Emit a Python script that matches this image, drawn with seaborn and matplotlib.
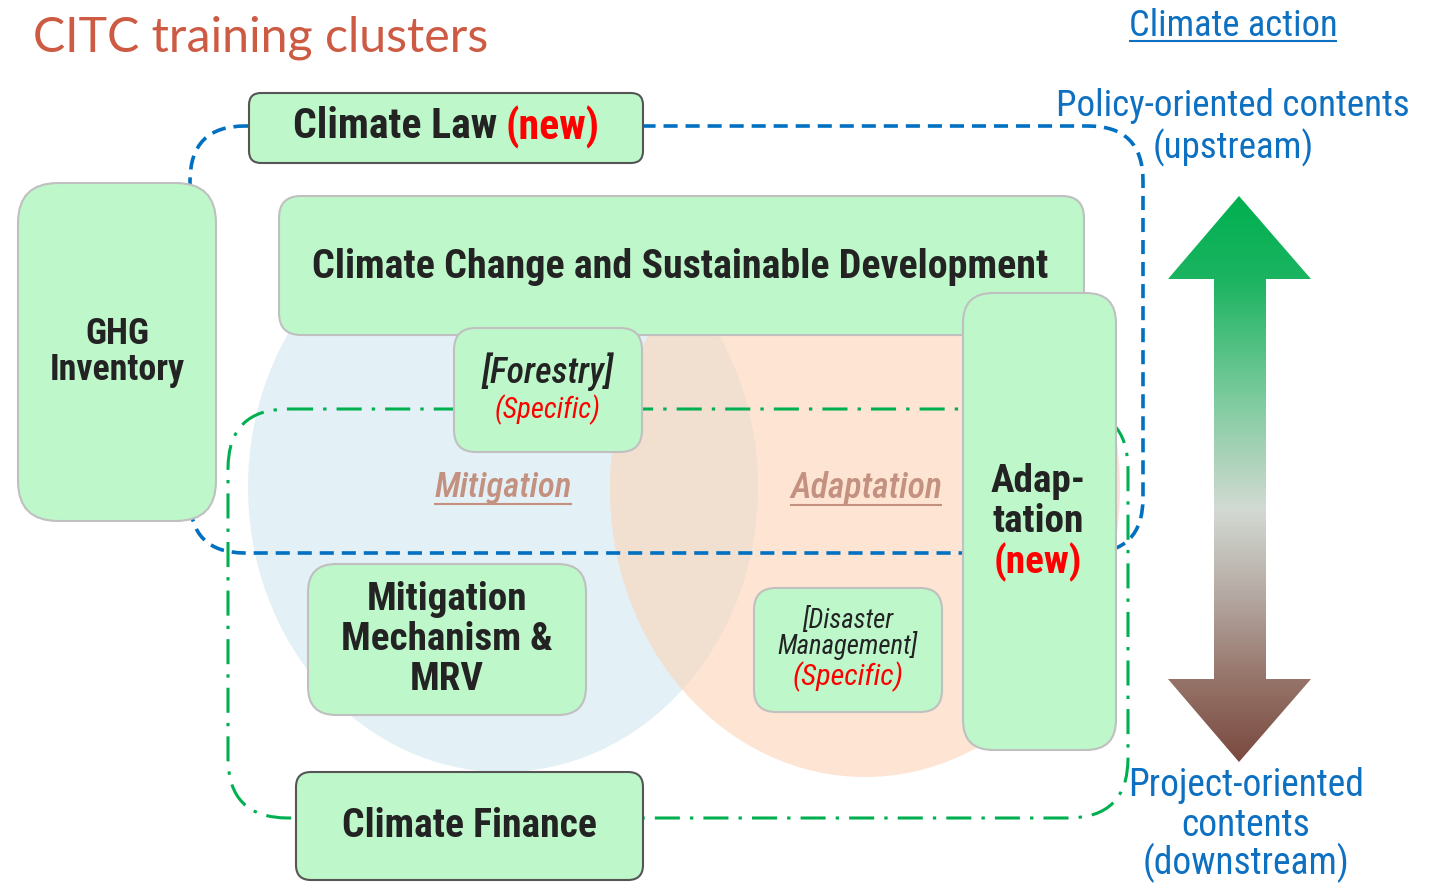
import numpy as np
import matplotlib
matplotlib.use("Agg")
import matplotlib.pyplot as plt
import seaborn as sns
from matplotlib import font_manager
from matplotlib.patches import FancyBboxPatch, Ellipse, Polygon
from matplotlib.colors import LinearSegmentedColormap

# ---- content ----
title = "CITC training clusters"
box_texts = ["Climate Law", "Climate Change and Sustainable Development", "GHG\nInventory",
             "[Forestry]", "Adap-\ntation", "Mitigation\nMechanism &\nMRV",
             "[Disaster\nManagement]", "Climate Finance"]
box_tags = ["(new)", "", "", "(Specific)", "(new)", "", "(Specific)", ""]
area_labels = ["Mitigation", "Adaptation"]
axis_title = "Climate action"
axis_top = ["Policy-oriented contents", "(upstream)"]
axis_bottom = ["Project-oriented", "contents", "(downstream)"]

# ---- layout (pixels, y down) ----
box_xywh = [(249, 93, 394, 70), (279, 196, 805, 139), (18, 183, 198, 338), (454, 328, 188, 124),
            (963, 293, 153, 457), (308, 564, 278, 151), (754, 588, 188, 124), (296, 772, 347, 108)]
box_round = [12, 22, 40, 22, 30, 28, 22, 15]
box_edge = ["#555555", "#C0C0C0", "#C0C0C0", "#C0C0C0", "#C0C0C0", "#C0C0C0", "#C0C0C0", "#555555"]

sns.set_theme(style="white")
avail = {f.name for f in font_manager.fontManager.ttflist}
narrow = next((f for f in ["Liberation Sans Narrow", "Roboto Condensed", "Open Sans Condensed"] if f in avail),
              "DejaVu Sans")
plt.rcParams["font.family"] = [narrow, "DejaVu Sans"]

GREEN_BOX = "#BDF7CA"
DARK = "#232323"
RED = "#FF0000"
BLUE = "#0E70C0"
GREEN = "#00B050"
ROSE = "#C4907F"

fig = plt.figure(figsize=(14.32, 8.83), dpi=100)
ax = fig.add_axes([0, 0, 1, 1])
ax.set_xlim(0, 1432)
ax.set_ylim(883, 0)
ax.axis("off")
renderer = fig.canvas.get_renderer()


def fit_size(s, w, **kw):
    t = ax.text(0, 0, s, fontsize=20, **kw)
    size = 20 * w / t.get_window_extent(renderer).width
    t.remove()
    return size


def put(x, y, s, size, **kw):
    kw.setdefault("ha", "center")
    return ax.text(x, y, s, fontsize=size, va="center", zorder=5, **kw)


def inline(x, y, parts, w, gap=8, **kw):
    size = fit_size("".join(p for p, _ in parts), w, **kw)
    ts = [ax.text(0, y, p, color=c, fontsize=size, va="center", ha="left", zorder=5, **kw) for p, c in parts]
    ws = [t.get_window_extent(renderer).width for t in ts]
    left = x - (sum(ws) + gap * (len(ts) - 1)) / 2
    for t, wd in zip(ts, ws):
        t.set_x(left)
        left += wd + gap


def underline(t, color, lw, off=0):
    bb = t.get_window_extent(renderer)
    ax.plot([bb.x0, bb.x1], [883 - bb.y0 + off] * 2, color=color, lw=lw, zorder=5, solid_capstyle="butt")


# ---- venn circles ----
blue_c = Ellipse((503, 487), 510, 570, facecolor="#E3F0F5", edgecolor="none", zorder=1)
orange_c = Ellipse((865, 488), 510, 578, facecolor="#FDE4D3", edgecolor="none", zorder=1)
ax.add_patch(blue_c)
ax.add_patch(orange_c)
overlap = Ellipse((865, 488), 510, 578, facecolor="#F1DFD0", edgecolor="none", zorder=1.1)
ax.add_patch(overlap)
overlap.set_clip_path(blue_c)

# ---- grouping outlines ----
ax.add_patch(FancyBboxPatch((190, 126), 953, 427, boxstyle="round,pad=0,rounding_size=55",
                            fill=False, ec="#0070C0", lw=2.6, ls=(0, (3.9, 2.2)), zorder=2))
ax.add_patch(FancyBboxPatch((228, 409), 900, 409, boxstyle="round,pad=0,rounding_size=60",
                            fill=False, ec=GREEN, lw=2.2, ls=(0, (8.2, 3.3, 1.1, 3.3)), zorder=2))

# ---- training boxes ----
for (x, y, w, h), r, ec in zip(box_xywh, box_round, box_edge):
    ax.add_patch(FancyBboxPatch((x, y), w, h, boxstyle=f"round,pad=0,rounding_size={r}",
                                fc=GREEN_BOX, ec=ec, lw=1.5, zorder=3))

bold = dict(fontweight="bold")
inline(446, 127, [(box_texts[0], DARK), (box_tags[0], RED)], 297, **bold)
put(680, 267, box_texts[1], fit_size(box_texts[1], 736, **bold), color=DARK, **bold)

s = fit_size("Inventory", 135, **bold)
for yy, line in zip([334, 370], box_texts[2].split("\n")):
    put(117, yy, line, s, color=DARK, **bold)

s = fit_size(box_texts[3], 132, style="italic", fontweight="medium")
put(548, 372, box_texts[3], s, color=DARK, style="italic", fontweight="medium")
put(548, 410, box_tags[3], fit_size(box_tags[3], 106, style="italic"), color=RED, style="italic")

s = fit_size("Adap-", 95, **bold)
for yy, line in zip([482, 521], box_texts[4].split("\n")):
    put(1038, yy, line, s, color=DARK, **bold)
put(1038, 562, box_tags[4], s, color=RED, **bold)

s = fit_size("Mechanism &", 211, **bold)
for yy, line in zip([600, 640, 680], box_texts[5].split("\n")):
    put(447, yy, line, s, color=DARK, **bold)

s = fit_size("Management]", 140, style="italic")
for yy, line in zip([620, 646], box_texts[6].split("\n")):
    put(848, yy, line, s, color=DARK, style="italic")
put(848, 677, box_tags[6], fit_size(box_tags[6], 111, style="italic"), color=RED, style="italic")

put(469, 826, box_texts[7], fit_size(box_texts[7], 254, **bold), color=DARK, **bold)

# ---- area labels ----
for cx, lab, w in zip([503, 866], area_labels, [137, 152]):
    t = put(cx, 488, lab, fit_size(lab, w, style="italic", fontweight="medium"), color=ROSE,
            style="italic", fontweight="medium")
    underline(t, ROSE, 1.5, off=-1)

# ---- title ----
put(33, 38, title, fit_size(title, 457, family=["Lato", "DejaVu Sans"]), color="#CD5A42",
    ha="left", family=["Lato", "DejaVu Sans"])

# ---- climate action axis ----
t = put(1233, 26, axis_title, fit_size(axis_title, 208), color=BLUE)
underline(t, BLUE, 1.5, off=-3)
s = fit_size(axis_top[0], 353)
for yy, line in zip([106, 148], axis_top):
    put(1233, yy, line, s, color=BLUE)
s = fit_size(axis_bottom[0], 236)
for yy, line in zip([786, 825, 863], axis_bottom):
    put(1246, yy, line, s, color=BLUE)

arrow = [(1239, 196), (1311, 279), (1266, 279), (1266, 679), (1311, 679), (1239, 762),
         (1168, 679), (1214, 679), (1214, 279), (1168, 279)]
poly = Polygon(arrow, closed=True, fc="none", ec="none", zorder=2)
ax.add_patch(poly)
cmap = LinearSegmentedColormap.from_list(
    "updown", [(0, "#00B050"), (0.15, "#1DB462"), (0.36, "#7ECB9E"), (0.555, "#D3DAD3"),
               (0.714, "#B3A6A0"), (0.855, "#967469"), (1, "#7A4A40")])
im = ax.imshow(np.linspace(0, 1, 400)[:, None], cmap=cmap, extent=(1168, 1311, 762, 196),
               origin="upper", aspect="auto", zorder=2)
im.set_clip_path(poly)

ax.set_xlim(0, 1432)
ax.set_ylim(883, 0)
fig.savefig("out.png", dpi=100, facecolor="white")
